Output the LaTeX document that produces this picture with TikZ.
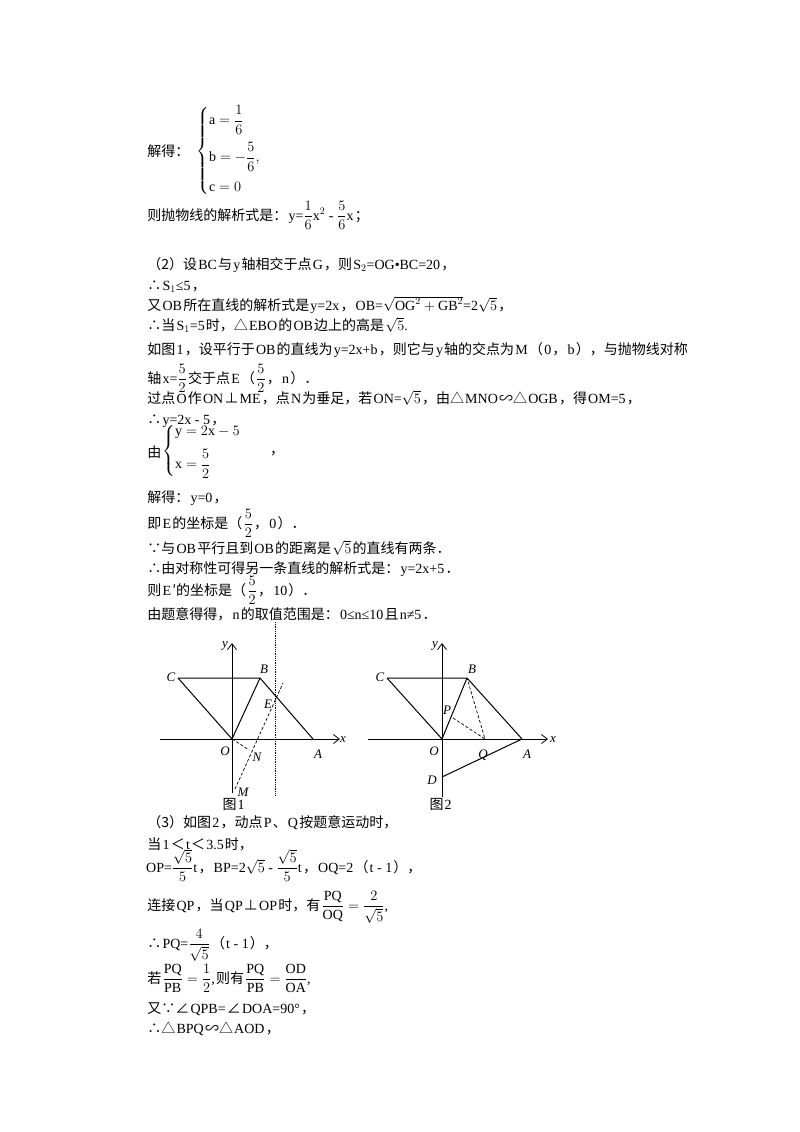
\documentclass[tikz,border=0pt]{standalone}
\usepackage{amsmath}
\usepackage{fontspec}
\usetikzlibrary{arrows.meta}
\setmainfont{Liberation Serif}
\newfontfamily\zhf{Noto Sans CJK SC}
\newcommand{\zh}[1]{\hspace{1.2pt}{\zhf #1}\hspace{1.2pt}}
\begin{document}
\begin{tikzpicture}[x=1pt,y=-1pt,
  txt/.style={anchor=base west,inner sep=0pt,font=\fontsize{14}{17}\selectfont},
  lbl/.style={inner sep=0pt,font=\fontsize{13}{15}\selectfont\itshape},
  ln/.style={line width=1pt},
  dsh/.style={densely dashed,line width=0.7pt},
  ax/.style={line width=0.8pt,-{Straight Barb[length=6pt,width=9pt]}}]
\useasboundingbox[fill=white] (0,0) rectangle (800,1132);
% ---------- text ----------
\node[txt] (t1) at (146,156) {\zh{解得：}};
\node[txt,anchor=west] (sys1) at (196,151) {$\left\{\begin{array}{@{}l@{}}\mathrm{a}=\dfrac16\\[13pt] \mathrm{b}=-\dfrac56,\\[13pt] \mathrm{c}=0\end{array}\right.$};
\node[txt] (t2) at (146,220) {\zh{则抛物线的解析式是：}y=$\dfrac16$x$^2$ - $\dfrac56$x\zh{；}};
\node[txt] (t3) at (146,269) {\zh{（2）设}BC\zh{与}y\zh{轴相交于点}G\zh{，则}S$_2$=OG•BC=20\zh{，}};
\node[txt] (t4) at (146,290) {\zh{∴}S$_1$≤5\zh{，}};
\node[txt] (t5) at (146,310) {\zh{又}OB\zh{所在直线的解析式是}y=2x\zh{，}OB=$\sqrt{\mathrm{OG}^2+\mathrm{GB}^2}$=2$\sqrt5$\zh{，}};
\node[txt] (t6) at (146,330) {\zh{∴当}S$_1$=5\zh{时，△}EBO\zh{的}OB\zh{边上的高是}$\sqrt5$.};
\node[txt] (t7) at (146,354) {\zh{如图}1\zh{，设平行于}OB\zh{的直线为}y=2x+b\zh{，则它与}y\zh{轴的交点为}M\zh{（}0\zh{，}b\zh{），与抛物线对称}};
\node[txt] (t8) at (146,383) {\zh{轴}x=$\dfrac52$\zh{交于点}E\zh{（}$\dfrac52$\zh{，}n\zh{）．}};
\node[txt] (t9) at (146,403) {\zh{过点}O\zh{作}ON\zh{⊥}ME\zh{，点}N\zh{为垂足，若}ON=$\sqrt5$\zh{，由△}MNO\zh{∽△}OGB\zh{，得}OM=5\zh{，}};
\node[txt] (t10) at (146,424) {\zh{∴}y=2x - 5\zh{，}};
\node[txt] (t11) at (146,457) {\zh{由}};
\node[txt,anchor=west] (sys2) at (162,451) {$\left\{\begin{array}{@{}l@{}}\mathrm{y}=2\mathrm{x}-5\\[9pt] \mathrm{x}=\dfrac52\end{array}\right.$\qquad\zh{，}};
\node[txt] (t12) at (146,502) {\zh{解得：}y=0\zh{，}};
\node[txt] (t13) at (146,528) {\zh{即}E\zh{的坐标是（}$\dfrac52$\zh{，}0\zh{）．}};
\node[txt] (t14) at (146,553) {\zh{∵与}OB\zh{平行且到}OB\zh{的距离是}$\sqrt5$\zh{的直线有两条．}};
\node[txt] (t15) at (146,573) {\zh{∴由对称性可得另一条直线的解析式是：}y=2x+5\zh{．}};
\node[txt] (t16) at (146,595) {\zh{则}E\zh{′的坐标是（}$\dfrac52$\zh{，}10\zh{）．}};
\node[txt] (t17) at (146,619) {\zh{由题意得得，}n\zh{的取值范围是：}0≤n≤10\zh{且}n≠5\zh{．}};
\node[txt] (t18) at (146,827) {\zh{（3）如图}2\zh{，动点}P\zh{、}Q\zh{按题意运动时，}};
\node[txt] (t19) at (146,849) {\zh{当}1\zh{＜}t\zh{＜}3.5\zh{时，}};
\node[txt] (t20) at (146,872) {OP=$\dfrac{\sqrt5}{5}$t\zh{，}BP=2$\sqrt5$ - $\dfrac{\sqrt5}{5}$t\zh{，}OQ=2\zh{（}t - 1\zh{），}};
\node[txt] (t21) at (146,910) {\zh{连接}QP\zh{，当}QP\zh{⊥}OP\zh{时，有}$\dfrac{\mathrm{PQ}}{\mathrm{OQ}}=\dfrac{2}{\sqrt5}$,};
\node[txt] (t22) at (146,948) {\zh{∴}PQ=$\dfrac{4}{\sqrt5}$\zh{（}t - 1\zh{），}};
\node[txt] (t23) at (146,983) {\zh{若}$\dfrac{\mathrm{PQ}}{\mathrm{PB}}=\dfrac12$,\zh{则有}$\dfrac{\mathrm{PQ}}{\mathrm{PB}}=\dfrac{\mathrm{OD}}{\mathrm{OA}}$,};
\node[txt] (t24) at (146,1013) {\zh{又∵∠}QPB=\zh{∠}DOA=90°\zh{，}};
\node[txt] (t25) at (146,1033) {\zh{∴△}BPQ\zh{∽△}AOD\zh{，}};
% ---------- figure 1 ----------
\coordinate (O1) at (232,739);
\coordinate (C1) at (178,678);
\coordinate (B1) at (260,678);
\coordinate (A1) at (313,739);
\coordinate (E1) at (272,698);
\coordinate (M1) at (235,789);
\coordinate (Mt) at (283,683);
\coordinate (N1) at (249,750);
\coordinate (xl1) at (160,739); \coordinate (xr1) at (340,739);
\coordinate (yb1) at (232,793); \coordinate (yt1) at (232,643);
\coordinate (vt) at (275,622); \coordinate (vb) at (275,795);
\draw[ax] (xl1) -- (xr1);
\draw[ax] (yb1) -- (yt1);
\draw[ln] (C1) -- (B1) -- (A1);
\draw[ln] (C1) -- (O1) -- (B1);
\draw[densely dotted,line width=0.8pt] (vt) -- (vb);
\draw[dsh] (M1) -- (Mt);
\draw[dsh] (O1) -- (N1);
\node[lbl] (lC1) at (171,677) {C};
\node[lbl] (lB1) at (264,669) {B};
\node[lbl] (lA1) at (318,754) {A};
\node[lbl] (lE1) at (268,704) {E};
\node[lbl] (lO1) at (225,751) {O};
\node[lbl] (lN1) at (257,757) {N};
\node[lbl] (lM1) at (243,792) {M};
\node[lbl] (ly1) at (225,646) {y};
\node[lbl] (lx1) at (343,740) {x};
\node[txt,anchor=center] (f1) at (233,804) {\zh{图}1};
% ---------- figure 2 ----------
\coordinate (O2) at (442,739);
\coordinate (C2) at (387,678);
\coordinate (B2) at (467,678);
\coordinate (A2) at (522,739);
\coordinate (P2) at (453,718);
\coordinate (Q2) at (485,739);
\coordinate (D2) at (442,777);
\coordinate (xl2) at (368,739); \coordinate (xr2) at (548,739);
\coordinate (yb2) at (442,797); \coordinate (yt2) at (442,643);
\draw[ax] (xl2) -- (xr2);
\draw[ax] (yb2) -- (yt2);
\draw[ln] (C2) -- (B2) -- (A2) -- (D2);
\draw[ln] (C2) -- (O2) -- (B2);
\draw[dsh] (P2) -- (Q2) -- (B2);
\node[lbl] (lC2) at (380,677) {C};
\node[lbl] (lB2) at (472,669) {B};
\node[lbl] (lA2) at (527,754) {A};
\node[lbl] (lP2) at (447,710) {P};
\node[lbl] (lQ2) at (483,755) {Q};
\node[lbl] (lO2) at (434,751) {O};
\node[lbl] (lD2) at (432,780) {D};
\node[lbl] (ly2) at (435,646) {y};
\node[lbl] (lx2) at (553,740) {x};
\node[txt,anchor=center] (f2) at (440,804) {\zh{图}2};
\end{tikzpicture}
\end{document}
